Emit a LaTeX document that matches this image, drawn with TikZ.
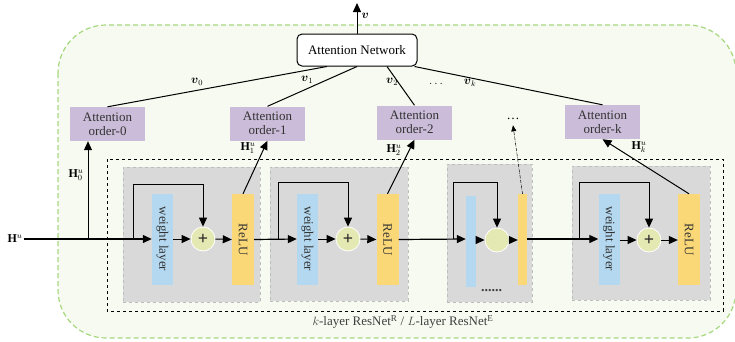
\documentclass[tikz,border=0pt]{standalone}
\usepackage{fontspec}
\setmainfont{Liberation Serif}
\usepackage{amsmath}
\usetikzlibrary{arrows.meta,calc}
\definecolor{gfill}{HTML}{F6FAF0}
\definecolor{gedge}{HTML}{A6D87F}
\definecolor{purp}{HTML}{CBBDD9}
\definecolor{blu}{HTML}{B4D8F0}
\definecolor{yel}{HTML}{FBD877}
\definecolor{circ}{HTML}{E4E8B2}
\definecolor{greyb}{HTML}{D9D9D9}
\definecolor{greye}{HTML}{BDBDBD}
\tikzset{
  conn/.style={line width=1pt,-{Triangle[length=9pt,width=8pt]}},
  plain/.style={line width=1pt},
  ordbox/.style={fill=purp,minimum width=75pt,minimum height=34pt,inner sep=0pt,align=center,font=\fontsize{13}{14}\selectfont,text=black!80},
  block/.style={fill=greyb,draw=greye,dashed,line width=0.8pt,inner sep=0pt},
  wlayer/.style={fill=blu,minimum width=21pt,minimum height=91pt,inner sep=0pt},
  relu/.style={fill=yel,minimum width=22pt,minimum height=91pt,inner sep=0pt},
  addc/.style={circle,fill=circ,draw=white,line width=0.8pt,minimum size=24pt,inner sep=0pt,font=\bfseries\fontsize{18}{18}\selectfont,text=black!85},
  vtext/.style={rotate=-90,font=\fontsize{13}{13}\selectfont,text=black!80},
  lbl/.style={font=\fontsize{12}{12}\selectfont,inner sep=0.5pt},
}
\begin{document}
\begin{tikzpicture}[x=1pt,y=-1pt]
\useasboundingbox (0,0) rectangle (735,341);
% outer green region
\begin{scope}
\clip (0,0) rectangle (735,341);
\draw[fill=gfill,draw=gedge,dash pattern=on 5pt off 3pt,line width=1.2pt,rounded corners=48pt] (58,25) rectangle (736,338);
\end{scope}
% attention network
\node[draw,rounded corners=5pt,line width=1pt,fill=white,minimum width=120pt,minimum height=32pt,inner sep=0pt,font=\fontsize{13}{14}\selectfont] (an) at (357,50) {Attention Network};
\coordinate (vtop) at (357,3);
\draw[conn] (an.north) -- (vtop);
\node[lbl,anchor=west] (vl) at (361,16) {$\boldsymbol{v}$};
% attention order boxes
\node[ordbox] (o0) at (107.5,124) {Attention\\order-0};
\node[ordbox] (o1) at (267.5,123.5) {Attention\\order-1};
\node[ordbox] (o2) at (414.5,122.5) {Attention\\order-2};
\node[ordbox] (ok) at (602.5,122) {Attention\\order-k};
\node[font=\fontsize{13}{13}\selectfont] (odots) at (513,119) {\dots};
% lines to attention network
\draw[plain] ($(an.south)+(-30,0)$) -- (o0.north);
\draw[plain] (an.south) -- (o1.north);
\draw[plain] ($(an.south)+(30,0)$) -- (o2.north);
\draw[plain] ($(an.south east)+(-3,0)$) -- (ok.north);
\node[lbl] (v0) at (197,82) {$\boldsymbol{v}_0$};
\node[lbl] (v1) at (307,80) {$\boldsymbol{v}_1$};
\node[lbl] (v2) at (392,82) {$\boldsymbol{v}_2$};
\node[lbl] (vd) at (437,84) {$\dots$};
\node[lbl] (vk) at (470,83) {$\boldsymbol{v}_k$};
% dashed resnet frame
\draw[dashed,line width=0.9pt] (107,159) rectangle (723,311);
\node[font=\fontsize{13}{13}\selectfont,text=black!75] (cap) at (403,322) {$k$-layer ResNet$^{\mathrm{R}}$ / $L$-layer ResNet$^{\mathrm{E}}$};
% grey blocks
\node[block,minimum width=137pt,minimum height=135pt] (b1) at (191.5,234.5) {};
\node[block,minimum width=138pt,minimum height=134pt] (b2) at (339,234) {};
\node[block,minimum width=85pt,minimum height=138pt] (b3) at (489.5,233) {};
\node[block,minimum width=138pt,minimum height=134pt] (b4) at (641,233) {};
% block 1
\node[wlayer] (w1) at (162.5,239) {};
\node[vtext] at (w1) {weight layer};
\node[addc] (c1) at (203,239) {+};
\node[relu] (r1) at (243,239.5) {};
\node[vtext] at (r1) {ReLU};
% block 2
\node[wlayer] (w2) at (307.5,239) {};
\node[vtext] at (w2) {weight layer};
\node[addc] (c2) at (348,239) {+};
\node[relu] (r2) at (387.5,239.5) {};
\node[vtext] at (r2) {ReLU};
% block 3
\node[wlayer,minimum width=10pt] (w3) at (471,241.5) {};
\node[addc] (c3) at (497,240) {};
\node[relu,minimum width=9pt] (r3) at (522.5,239.5) {};
\node[font=\bfseries\fontsize{14}{14}\selectfont,text=black!75,inner sep=0pt] (bdots) at (491.5,291) {......};
% block 4
\node[wlayer] (w4) at (609,239) {};
\node[vtext] at (w4) {weight layer};
\node[addc] (c4) at (649,240) {+};
\node[relu] (r4) at (689,239.5) {};
\node[vtext] at (r4) {ReLU};
% input
\node[font=\fontsize{12}{12}\selectfont,inner sep=1pt] (hu) at (15,239) {$\mathbf{H}^u$};
\coordinate (h0) at (88,239);
\coordinate (s1) at (133,239);
\coordinate (s2) at (278,239);
\coordinate (s3) at (453,239);
\coordinate (s4) at (579,239);
% main line
\draw[conn,line width=1.2pt] (hu.east) -- (w1.west);
\draw[conn] (w1.east) -- (c1.west);
\draw[conn] (c1.east) -- (r1.west);
\draw[conn,line width=1.2pt] (r1.east) -- (w2.west);
\draw[conn] (w2.east) -- (c2.west);
\draw[conn] (c2.east) -- (r2.west);
\draw[conn,line width=1.2pt] (r2.east) -- (w3.west |- s3);
\draw[conn] (w3.east |- c3) -- (c3.west);
\draw[conn] (c3.east) -- (r3.west |- c3);
\draw[conn,line width=1.2pt] (r3.east |- s4) -- (w4.west |- s4);
\draw[conn] (w4.east |- c4) -- (c4.west);
\draw[conn] (c4.east) -- (r4.west |- c4);
% skip connections
\draw[conn] (s1) |- (133,184) -| (c1.north);
\draw[conn] (s2) |- (278,182) -| (c2.north);
\draw[conn] (s3) |- (453,182) -| (c3.north);
\draw[conn] (s4) |- (579,182) -| (c4.north);
% H outputs
\draw[conn] (h0) -- (h0 |- o0.south);
\draw[conn] (r1.north) -- (o1.south);
\draw[conn] (r2.north) -- (o2.south);
\draw[conn] (r4.north) -- (ok.south);
\draw[densely dashdotted,line width=0.5pt,-{Triangle[length=6pt,width=5pt]}] (r3.north) -- ($(odots.south)+(0,2)$);
\node[lbl] (H0) at (76,175) {$\mathbf{H}^u_0$};
\node[lbl] (H1) at (248,148) {$\mathbf{H}^u_1$};
\node[lbl] (H2) at (394,150) {$\mathbf{H}^u_2$};
\node[lbl] (Hk) at (639,147) {$\mathbf{H}^u_k$};
\end{tikzpicture}
\end{document}
